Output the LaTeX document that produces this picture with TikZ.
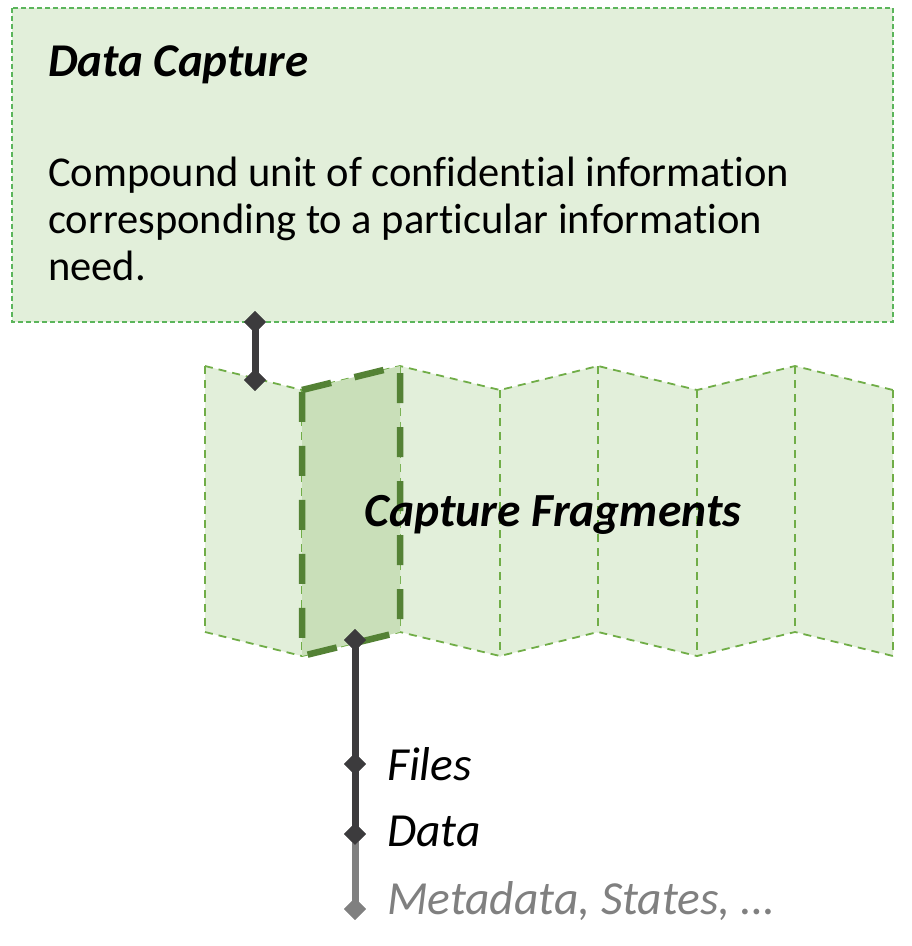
\documentclass[tikz,border=0pt]{standalone}
\usepackage{fontspec}
\setmainfont{Carlito}[RawFeature=-liga]
\usetikzlibrary{shapes.geometric}
\definecolor{boxfill}{HTML}{E2EFDA}
\definecolor{boxline}{HTML}{5BB55B}
\definecolor{fragline}{HTML}{70AD47}
\definecolor{selfill}{HTML}{C9DFB9}
\definecolor{selline}{HTML}{548235}
\definecolor{conn}{HTML}{3C3B3D}
\definecolor{conngray}{HTML}{808080}
\tikzset{
  desctext/.style={font=\fontsize{42.5}{47}\selectfont, inner sep=0pt, anchor=base west},
  bigit/.style={font=\fontsize{47.5}{52}\selectfont\itshape, inner sep=0pt, anchor=base west},
  bigbf/.style={font=\fontsize{47.5}{52}\selectfont\bfseries\itshape, inner sep=0pt},
  knot/.style={shape=diamond, fill=conn, minimum size=22pt, inner sep=0pt},
  knotgray/.style={knot, fill=conngray},
  thindash/.style={draw=fragline, line width=1.8pt, dash pattern=on 8pt off 6pt},
  conline/.style={draw=conn, line width=7pt},
}
\begin{document}
\begin{tikzpicture}[x=1pt,y=-1pt]
\useasboundingbox (0,0) rectangle (912,946);
% top box
\draw[fill=boxfill, draw=boxline, line width=1.2pt, dash pattern=on 5pt off 3pt] (12,8) rectangle (893,322);
\node[bigbf, anchor=base west, font=\fontsize{47}{52}\selectfont\bfseries\itshape] (title) at (48,76) {Data Capture};
\node[desctext] (desc) at (48,186) {Compound unit of confidential information};
\node[desctext] (desc2) at (48,233) {corresponding to a particular information};
\node[desctext] (desc3) at (48,280) {need.};
% fragments
\fill[boxfill] (205,366) -- (302,390) -- (400,366) -- (500,390) -- (598,366) -- (697,390) -- (795,366) -- (893,390)
  -- (893,656) -- (795,632) -- (697,656) -- (598,632) -- (500,656) -- (400,632) -- (302,656) -- (205,632) -- cycle;
\draw[thindash] (205,366) -- (302,390) -- (400,366) -- (500,390) -- (598,366) -- (697,390) -- (795,366) -- (893,390);
\draw[thindash] (205,632) -- (302,656) -- (400,632) -- (500,656) -- (598,632) -- (697,656) -- (795,632) -- (893,656);
\foreach \x/\a/\b in {205/366/632, 302/390/656, 400/366/632, 500/390/656, 598/366/632, 697/390/656, 795/366/632, 893/390/656}
  \draw[thindash] (\x,\a) -- (\x,\b);
\draw[fill=selfill, draw=selline, line width=6.5pt, dash pattern=on 30pt off 24pt, line join=miter]
  (302,390) -- (400,366) -- (400,632) -- (302,656) -- cycle;
\node[bigbf, anchor=base] (frag) at (553,526) {Capture Fragments};
% top connector
\node[knot] (d1) at (255,322) {};
\node[knot] (d2) at (255,380) {};
\draw[conline] (d1.center) -- (d2.center);
\node[knot] at (d1) {};
\node[knot] at (d2) {};
% bottom connector
\node[knot] (b0) at (355,640) {};
\node[knot] (b1) at (355,764) {};
\node[knot] (b2) at (355,834) {};
\node[knotgray] (b3) at (355,909) {};
\draw[conline, draw=conngray] (b2.center) -- (b3.center);
\draw[conline] (b0.center) -- (b1.center);
\draw[conline] (b1.center) -- (b2.center);
\node[knot] at (b0) {};
\node[knot] at (b1) {};
\node[knot] at (b2) {};
\node[knotgray] at (b3) {};
\node[bigit] (files) at (387,780) {Files};
\node[bigit] (data) at (387,846) {Data};
\node[bigit, text=conngray] (meta) at (387,914) {Metadata, States, …};
\end{tikzpicture}
\end{document}
